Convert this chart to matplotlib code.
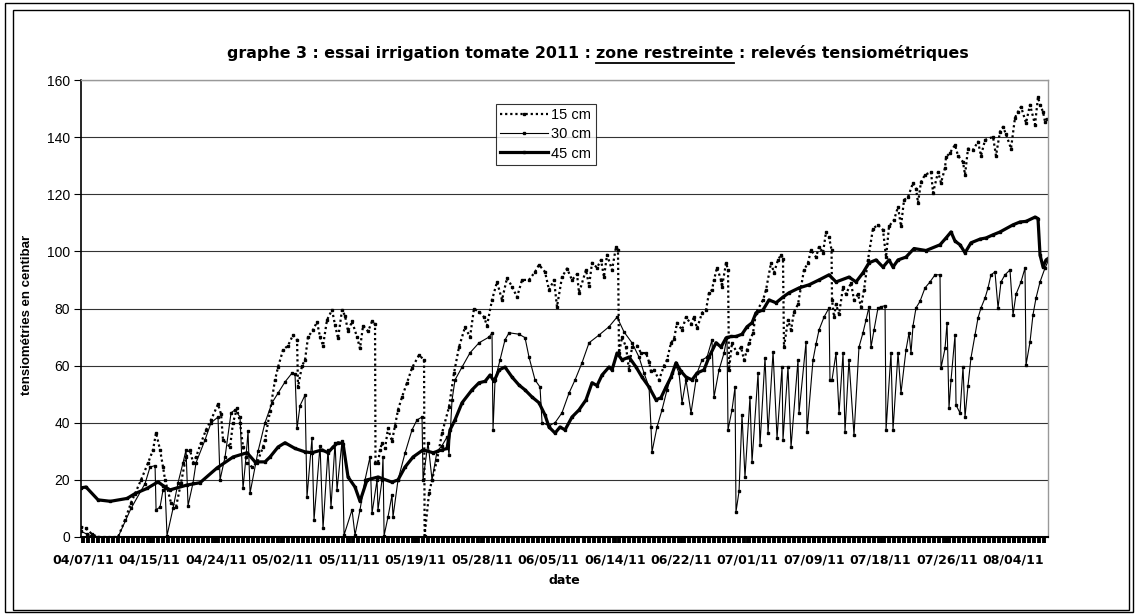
import numpy as np
import matplotlib.pyplot as plt
from matplotlib.lines import Line2D
from matplotlib.patches import Rectangle

plt.rcParams['font.family'] = ['Liberation Sans', 'DejaVu Sans']

# days since 04/07/11 and tension in centibar
d15 = [-0.26, 0.38, 1.15, 1.9, 4.48, 5.37, 6.14, 7.42, 8.31, 8.95, 9.34, 9.85, 10.23, 10.49,
       11.25, 11.89, 12.53, 13.17, 13.68, 14.07, 14.45, 15.09, 15.73, 16.37, 17.26, 17.65,
       17.90, 18.80, 19.18, 19.69, 20.08, 20.46, 20.97, 21.61, 22.25, 23.02, 23.27, 23.91,
       24.55, 24.94, 25.58, 26.21, 26.85, 27.37, 27.49, 28.01, 28.39, 28.77, 29.41, 29.92,
       30.31, 30.69, 31.20, 31.84, 32.23, 32.61, 33.12, 33.50, 33.89, 34.40, 35.04, 35.42,
       35.81, 36.45, 36.96, 37.34, 37.40, 37.72, 37.98, 38.24, 38.62, 39.00, 39.51, 39.90,
       40.28, 40.79, 41.43, 42.07, 42.97, 43.61, 43.68, 44.25, 44.63, 45.27, 45.91, 46.80,
       47.44, 48.08, 48.85, 49.49, 50.00, 50.64, 51.28, 51.66, 52.30, 52.94, 53.58, 54.22,
       54.86, 55.50, 56.14, 57.03, 57.80, 58.31, 59.08, 59.59, 60.23, 60.61, 61.25, 61.89,
       62.53, 63.17, 63.43, 64.32, 64.71, 65.09, 65.73, 66.24, 66.62, 67.01, 67.65, 68.16,
       68.41, 68.54, 68.93, 69.44, 69.82, 70.20, 70.84, 71.36, 72.00, 72.38, 72.63, 73.02,
       73.66, 74.30, 74.68, 75.19, 75.58, 75.96, 76.60, 77.11, 77.75, 78.13, 78.52, 79.16,
       79.67, 80.05, 80.43, 80.69, 81.07, 81.59, 81.71, 82.23, 82.48, 82.61, 82.99, 83.63,
       84.14, 84.53, 84.91, 85.17, 85.68, 86.06, 86.96, 87.34, 87.98, 88.36, 88.87, 89.26,
       89.51, 89.64, 90.15, 90.54, 90.92, 91.43, 92.20, 92.71, 93.09, 93.73, 94.12, 94.63,
       95.01, 95.40, 95.72, 95.78, 96.04, 96.29, 96.68, 97.19, 97.57, 98.21, 98.59, 99.10,
       99.49, 99.87, 100.38, 101.02, 101.66, 102.30, 102.69, 103.07, 103.71, 104.22, 104.60,
       104.99, 105.50, 106.14, 106.52, 106.78, 107.16, 107.67, 108.44, 108.70, 109.34,
       109.72, 110.23, 110.36, 110.87, 111.51, 111.89, 112.53, 112.79, 113.17, 113.81,
       114.45, 114.83, 115.35, 116.37, 116.75, 117.26, 117.65, 118.03, 118.67, 119.18,
       119.57, 119.95, 120.59, 121.10, 121.74, 122.12, 122.38, 122.76, 123.02, 123.27]
v15 = [3.5, 3.0, 1.0, 0, 0, 6, 12, 20, 25.9, 30.5, 36.5, 30.5, 24.5, 20,
       12, 10.5, 19, 28, 30.5, 26, 28, 33, 37.5, 41, 46.5, 43,
       34, 31.5, 40, 45, 40, 31.5, 26, 24.5, 26, 31.5, 34, 44,
       55, 59.5, 65.5, 67, 70.7, 69, 52.5, 60, 62, 70, 72.5, 75.3,
       70, 67, 76, 79.5, 74.2, 69.5, 79.5, 77.5, 72, 75.5, 70, 66,
       74, 72, 75.5, 74.5, 26, 26, 30.5, 33, 31, 38, 33.5, 39,
       44.5, 49, 54, 59.2, 63.7, 62, 0.5, 15.4, 20, 27, 36.4, 45.5,
       57.4, 66.5, 73.5, 70, 80, 78.8, 77, 74, 83, 89.3, 83, 90.7,
       87.7, 84, 90, 90, 92.8, 95.3, 92.8, 86.5, 90, 80.6, 91, 94,
       90, 92, 85.5, 93.5, 88, 96, 94.3, 97, 91, 98.8, 93.5, 101.6,
       100.5, 64.4, 70, 66.5, 58.5, 66.5, 67, 64.4, 64.4, 61.3, 58, 58.5,
       55, 60, 62, 68, 69.3, 75, 72.5, 77, 74.5, 77, 73, 78.5,
       79.5, 85.5, 86.5, 90, 94.3, 90, 87.5, 96, 93.5, 58.5, 68, 64.4,
       66.5, 62, 65.5, 68, 71.5, 78.5, 83, 86.5, 96, 92.5, 97, 98.8,
       97.5, 66.5, 76, 72.5, 78.8, 81.5, 93.5, 96, 100.5, 98, 101.6, 99.5,
       106.8, 105, 100.5, 83, 77, 81.5, 78, 87.5, 85, 89, 83, 85,
       80.5, 86.5, 97, 108, 109.3, 107.5, 98, 108.8, 111, 115.6, 108.8,
       118, 119, 124, 122, 117, 124.3, 126.8, 127.8, 120.5, 127.8,
       124, 129.2, 133, 134.5, 137.3, 133.5, 131.3, 126.8, 136, 135.5,
       138.4, 133.5, 139, 140.1, 133.5, 141.9, 143.6, 141, 136, 146.8,
       148.9, 150.6, 145, 151.3, 144.4, 154, 151.3, 148.9, 145.4, 146.5]

d30 = [-0.26, 0.5, 1.5, 4.48, 6.14, 7.93, 8.57, 9.21, 9.34, 9.85, 10.23, 10.49, 10.74,
       11.51, 12.15, 12.79, 13.17, 13.43, 14.07, 14.45, 15.60, 16.37, 17.26, 17.52, 18.16,
       18.93, 19.44, 20.08, 20.46, 20.84, 21.10, 21.36, 22.38, 23.27, 24.17, 24.94, 25.83,
       26.73, 27.11, 27.37, 27.75, 28.39, 28.64, 29.28, 29.54, 30.31, 30.69, 31.33, 31.71,
       32.23, 32.48, 33.12, 33.38, 34.40, 34.78, 35.42, 36.06, 36.70, 36.96, 37.60, 37.72,
       38.24, 38.36, 38.50, 39.00, 39.51, 39.64, 40.28, 41.18, 42.07, 42.71, 43.35, 43.48,
       44.12, 44.63, 45.27, 45.91, 46.55, 46.80, 47.19, 47.57, 48.47, 49.49, 50.64, 51.92,
       52.30, 52.43, 52.69, 53.32, 53.96, 54.48, 55.75, 56.52, 57.03, 57.80, 58.44, 58.70,
       59.59, 60.36, 61.25, 62.15, 62.92, 63.81, 64.71, 65.98, 67.26, 68.29, 69.18, 70.20,
       71.10, 71.74, 72.38, 72.63, 72.76, 73.40, 74.04, 74.68, 75.32, 75.83, 76.21, 76.60,
       77.11, 77.75, 78.39, 78.52, 79.16, 79.80, 80.43, 80.69, 81.33, 81.97, 82.35, 82.48,
       82.99, 83.38, 83.50, 83.89, 84.27, 84.65, 85.29, 85.55, 86.32, 86.57, 87.21, 87.60,
       88.24, 88.75, 89.39, 89.51, 90.15, 90.54, 91.43, 91.56, 92.46, 92.58, 93.35, 93.73,
       94.12, 94.76, 95.40, 95.52, 95.78, 96.29, 96.68, 97.19, 97.44, 97.95, 98.59, 99.23,
       99.74, 100.13, 100.51, 100.77, 101.15, 101.66, 102.05, 102.56, 102.69, 103.32,
       103.58, 104.22, 104.60, 105.24, 105.63, 105.88, 106.14, 106.52, 107.03, 107.67,
       108.31, 108.95, 109.59, 109.72, 110.23, 110.49, 110.74, 111.00, 111.51, 111.64,
       112.15, 112.53, 112.79, 113.17, 113.55, 114.07, 114.45, 114.83, 115.35, 115.73,
       116.11, 116.62, 117.01, 117.39, 117.90, 118.54, 118.93, 119.31, 119.95, 120.46,
       120.59, 121.10, 121.48, 121.87, 122.38, 123.02, 123.40]
v30 = [2, 1, 0, 0, 10, 18.7, 24.5, 25, 9.5, 10.5, 16.5, 17, 0.5,
       10, 19, 26, 30.5, 11, 19, 26, 34, 40, 42, 20, 28,
       43.5, 44.5, 42, 17, 28, 37, 15.4, 30, 40, 47, 50.4, 54.3,
       57.4, 57, 38, 46, 49.7, 14, 34.7, 6, 32, 3, 30.5, 10.5,
       33, 16.5, 33.5, 0.7, 9.5, 0.7, 9.5, 20, 28, 8.4, 20, 9.5,
       20, 28, 0.5, 7, 14.7, 7, 20, 29.4, 37.5, 41, 42, 20,
       33, 20, 30, 32, 35, 28.7, 48, 55, 59.5, 64.5, 68, 70,
       71.5, 37.5, 55, 62, 69, 71.5, 71, 69.8, 63, 55, 52.5, 40,
       39, 40, 43.5, 50.4, 55, 61, 68, 70.7, 73.6, 77, 71.8, 68,
       63, 57.4, 52.5, 38.5, 29.8, 38.5, 44.5, 51.5, 57.4, 60, 57.4, 47,
       55, 43.4, 55, 57.4, 62, 63, 69, 49, 58.5, 64.4, 70, 37.5,
       44.5, 52.5, 8.8, 16, 42.7, 21, 49, 26.3, 57.4, 32.2, 62.7, 36.4,
       64.8, 34.7, 59.5, 34, 59.5, 31.5, 62, 43.4, 68.3, 36.8, 62, 67.5,
       72.5, 77, 80.2, 55, 55, 64.4, 43.4, 64.4, 36.8, 62, 35.7, 66.5,
       71.5, 76, 80.6, 66.5, 72.5, 80.2, 80.6, 81, 37.5, 64.4,
       37.5, 64.4, 50.4, 65.5, 71.5, 64.4, 74, 80.2, 82.5, 87.2,
       89.3, 91.8, 91.8, 59.2, 66, 75, 45.2, 55, 70.7, 46.2,
       43.4, 59.5, 42, 53, 62.7, 70.7, 76.7, 80.2, 83.7, 87.2,
       91.8, 92.8, 80.2, 89.3, 91.8, 93.5, 77.8, 85, 89.3, 94.2,
       60.2, 68.3, 77.8, 83.7, 89.3, 94.2, 96.5]

d45 = [-0.26, 0.38, 1.92, 3.5, 5.63, 6.65, 8.18, 9.59, 10.23, 11.13, 13.30, 14.96, 17.14,
       19.18, 20.97, 22.00, 23.27, 23.91, 24.94, 25.83, 27.11, 28.39, 29.28, 30.56, 31.33,
       31.97, 32.61, 33.25, 33.89, 34.78, 35.42, 36.32, 37.72, 39.51, 40.28, 41.18, 42.20,
       43.48, 44.76, 45.91, 46.55, 46.93, 47.57, 48.47, 49.74, 50.64, 51.41, 52.05, 52.56,
       53.20, 53.96, 54.86, 55.75, 56.52, 57.42, 58.31, 59.08, 59.59, 60.36, 61.00, 61.64,
       62.53, 63.43, 64.32, 65.09, 65.73, 66.37, 67.26, 67.65, 68.29, 68.93, 69.82, 70.72,
       71.48, 72.38, 73.27, 73.91, 74.55, 75.19, 75.83, 76.47, 77.11, 77.88, 78.52, 79.41,
       80.05, 80.95, 81.59, 82.23, 82.86, 83.50, 84.27, 84.91, 85.55, 86.06, 86.96, 87.72,
       88.62, 89.51, 90.28, 91.56, 92.84, 94.12, 95.40, 96.29, 97.95, 98.85, 99.74, 100.51,
       101.41, 102.30, 103.07, 103.58, 104.22, 105.24, 106.27, 107.80, 109.59, 110.36,
       111.00, 111.51, 112.15, 112.79, 113.55, 114.71, 115.47, 116.37, 117.26, 118.93,
       119.82, 120.59, 121.74, 122.12, 122.38, 122.76, 123.15, 123.40]
v45 = [17.2, 17.5, 13, 12.5, 13.5, 15.2, 17, 19.3, 18, 16.5, 18.2, 19, 24.2,
       28, 29.5, 26.3, 26.3, 28, 31.5, 33, 31, 29.8, 29.5, 30.5, 29.5,
       31.5, 33, 32.7, 21, 17.5, 12.5, 20, 21, 19.2, 20, 24.5, 28,
       30.5, 29.5, 30.5, 31, 37.5, 41, 47, 51.5, 54, 54.5, 56.7, 54.5,
       58.5, 59.5, 56, 53.2, 51.5, 49, 47, 42.7, 38.5, 36.4, 38.5, 37.5,
       42, 44.5, 48, 54, 53, 56.7, 59.5, 58.5, 64.4, 62, 63, 59.5,
       56, 52.5, 48, 48.8, 52.5, 56, 61, 58, 56, 55, 57.4, 58.5,
       63, 68, 66.5, 69.7, 70.2, 70.2, 71, 73.6, 75, 78.5, 79.5, 83,
       82, 84, 85.5, 87.2, 88.3, 90, 91.8, 89.3, 91, 89.3, 92.5, 96,
       97, 94.5, 97, 94.5, 97, 98, 101, 100.3, 102.3, 104.7,
       106.8, 103.6, 102.3, 99.5, 103, 104.3, 104.7, 105.8, 106.8, 109.3,
       110.3, 110.5, 112, 111.5, 98.8, 94.6, 97, 97.5]

series_labels = ["15 cm", "30 cm", "45 cm"]
tick_labels = ["04/07/11", "04/15/11", "04/24/11", "05/02/11", "05/11/11", "05/19/11",
               "05/28/11", "06/05/11", "06/14/11", "06/22/11", "07/01/11", "07/09/11",
               "07/18/11", "07/26/11", "08/04/11"]
title_parts = ["graphe 3 : essai irrigation tomate 2011 :", "zone restreinte",
               ": relevés tensiométriques"]

W, H = 1136, 614
fig = plt.figure(figsize=(W / 100, H / 100), dpi=100)

# frames round the chart
fig.add_artist(Rectangle((4.5 / W, 1 - 612 / H), 1128 / W, 609 / H, transform=fig.transFigure,
                         fill=False, lw=1.0, ec='black'))
fig.add_artist(Rectangle((12.5 / W, 1 - 610 / H), 1116 / W, 600 / H, transform=fig.transFigure,
                         fill=False, lw=1.0, ec='black'))

ax = fig.add_axes([81 / W, 1 - 537 / H, (1048 - 81) / W, (537 - 80) / H])

ax.plot(d15, v15, color='black', lw=1.6, linestyle=(0, (1, 1.3)),
        marker='s', ms=1.8, label=series_labels[0])
ax.plot(d30, v30, color='black', lw=0.8, marker='s', ms=1.6, label=series_labels[1])
ax.plot(d45, v45, color='black', lw=2.3, marker='s', ms=2, label=series_labels[2])

ax.set_xlim(-0.26, 123.4)
ax.set_ylim(0, 160)
ax.set_yticks(np.arange(0, 161, 20))
ax.tick_params(axis='y', labelsize=10, length=5, width=0.8, direction='out', pad=3)
ax.set_xticks(np.arange(len(tick_labels)) * 8.5)
ax.set_xticklabels(tick_labels, fontsize=9, fontweight='bold', family='DejaVu Sans')
ax.set_xticks(np.arange(0, 123.4, 0.64), minor=True)
ax.tick_params(axis='x', which='both', length=4, width=2.8, direction='out', pad=8)

ax.grid(axis='y', color='#333333', lw=0.8)
ax.set_axisbelow(True)
for s in ['top', 'right']:
    ax.spines[s].set_color('#999999')
    ax.spines[s].set_linewidth(1.0)
ax.spines['left'].set_linewidth(1.2)
ax.spines['bottom'].set_linewidth(1.5)

ax.set_xlabel('date', fontsize=9, fontweight='bold', family='DejaVu Sans', labelpad=5)
fig.text(27 / W, 1 - 315 / H, 'tensiométries en centibar', rotation=90, fontsize=9.5,
         fontweight='bold', ha='center', va='center',
         family=['Liberation Sans Narrow', 'Liberation Sans', 'DejaVu Sans'])

leg = ax.legend(loc='upper left', bbox_to_anchor=(496 / W, 1 - 104 / H),
                bbox_transform=fig.transFigure, fontsize=10.5, frameon=True, fancybox=False,
                edgecolor='black', handlelength=3.3, handletextpad=0.2, borderpad=0.3,
                labelspacing=0.35, numpoints=1, borderaxespad=0)
leg.get_frame().set_linewidth(0.8)

# title in three pieces so the middle one can be underlined
base_y = 1 - 58 / H
tfont = dict(fontsize=11.4, fontweight='bold', family='DejaVu Sans')
texts = [fig.text(0, base_y, p, va='baseline', ha='left', **tfont) for p in title_parts]
fig.canvas.draw()
r = fig.canvas.get_renderer()
t1 = fig.text(0, 0, 'x x', **tfont)
t2 = fig.text(0, 0, 'xx', **tfont)
space = t1.get_window_extent(r).width - t2.get_window_extent(r).width
t1.remove()
t2.remove()
widths = [t.get_window_extent(r).width for t in texts]
x = 598 - (sum(widths) + 2 * space) / 2
for i, (t, wd) in enumerate(zip(texts, widths)):
    t.set_x(x / W)
    if i == 1:
        fig.add_artist(Line2D([x / W, (x + wd) / W], [1 - 63 / H] * 2,
                              transform=fig.transFigure, color='black', lw=1.3))
    x += wd + space

fig.savefig('out.png', dpi=100)
